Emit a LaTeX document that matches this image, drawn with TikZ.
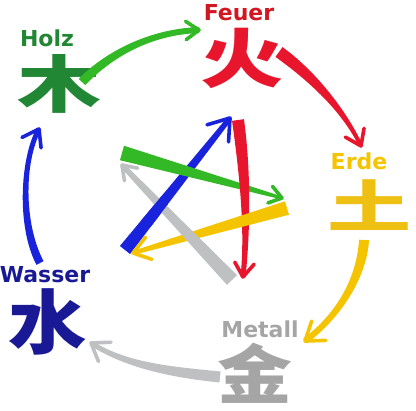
\documentclass[tikz,border=0pt]{standalone}
\usepackage{fontspec}
\usetikzlibrary{calc}
\newfontfamily\cjk{Noto Sans CJK SC}
\newfontfamily\labf{DejaVu Sans}
\definecolor{greenA}{RGB}{52,185,38}
\definecolor{greenD}{RGB}{34,135,52}
\definecolor{redA}{RGB}{232,22,45}
\definecolor{redD}{RGB}{210,22,34}
\definecolor{yellowA}{RGB}{245,196,0}
\definecolor{yellowT}{RGB}{238,192,20}
\definecolor{grayA}{RGB}{190,192,194}
\definecolor{grayT}{RGB}{165,165,165}
\definecolor{blueA}{RGB}{25,35,220}
\definecolor{blueD}{RGB}{25,25,150}
% tapered straight stroke: tail, head, half width tail, half width head, colour
\newcommand\taperline[5]{%
  \fill[#5] ($(#1)!#3!90:(#2)$) -- ($(#2)!#4!-90:(#1)$) -- ($(#2)!#4!90:(#1)$) -- ($(#1)!#3!-90:(#2)$) -- cycle;}
% tapered curved stroke: P0, P1, P2, P3, half width start, half width end, colour
\newcommand\tapercurve[7]{%
  \fill[#7] ($(#1)!#5!90:(#2)$) .. controls ($(#2)!#5!-90:(#1)$) and ($(#3)!#6!90:(#4)$) .. ($(#4)!#6!-90:(#3)$)
    -- ($(#4)!#6!90:(#3)$) .. controls ($(#3)!#6!-90:(#4)$) and ($(#2)!#5!90:(#1)$) .. ($(#1)!#5!-90:(#2)$) -- cycle;}
% open chevron head: tip, point behind, colour, arm length
\newcommand\chev[4]{%
  \draw[#3, chevline] ($(#1)!#4!35:(#2)$) -- (#1) -- ($(#1)!#4!-35:(#2)$);}
\tikzset{
  chevline/.style={line width=3.6pt, line cap=round, line join=round},
  lab/.style={inner sep=0pt, font=\labf\bfseries\fontsize{22}{22}\selectfont},
  zeichen/.style={inner sep=0pt, font=\cjk\bfseries\fontsize{#1}{#1}\selectfont},
  zeichen/.default=64
}
\begin{document}
\begin{tikzpicture}[x=1pt,y=-1pt]
\useasboundingbox (0,0) rectangle (416,411);
% element labels and characters
\node[lab, text=greenD] (holz) at (47,38) {Holz};
\node[zeichen=62, text=greenD, xscale=1.35] (mu) at (59,84) {木};
\node[lab, text=redD] (feuer) at (239,13) {Feuer};
\node[zeichen=64, text=redA, xscale=1.3] (huo) at (242,58) {火};
\node[lab, text=yellowA] (erde) at (359,161) {Erde};
\node[zeichen=56, text=yellowT, xscale=1.5] (tu) at (369,205) {土};
\node[lab, text=grayT] (metall) at (260,329) {Metall};
\node[zeichen=64, text=grayT, xscale=1.17] (jin) at (255,373) {金};
\node[lab, text=blueD] (wasser) at (45,275) {Wasser};
\node[zeichen=70, text=blueD, xscale=1.12] (shui) at (48,322) {水};
% outer cycle coordinates
\coordinate (g0) at (82,82);  \coordinate (g1) at (106,57);  \coordinate (g2) at (147,32);  \coordinate (g3) at (199,30);
\coordinate (r0) at (279,52); \coordinate (r1) at (311,75);  \coordinate (r2) at (344,110); \coordinate (r3) at (361,146);
\coordinate (y0) at (364,240);\coordinate (y1) at (362,276); \coordinate (y2) at (340,315); \coordinate (y3) at (305,341);
\coordinate (a0) at (220,377);\coordinate (a1) at (170,372); \coordinate (a2) at (125,365); \coordinate (a3) at (91,343);
\coordinate (b0) at (40,263); \coordinate (b1) at (20,225);  \coordinate (b2) at (22,160);  \coordinate (b3) at (39,129);
\tapercurve{g0}{g1}{g2}{g3}{4.5pt}{3pt}{greenA}   \chev{g3}{g2}{greenA}{16pt}
\tapercurve{r0}{r1}{r2}{r3}{6pt}{2pt}{redA}       \chev{r3}{r2}{redA}{18pt}
\tapercurve{y0}{y1}{y2}{y3}{5pt}{3pt}{yellowA}    \chev{y3}{y2}{yellowA}{21pt}
\tapercurve{a0}{a1}{a2}{a3}{5.5pt}{2.5pt}{grayA}  \chev{a3}{a2}{grayA}{20pt}
\tapercurve{b0}{b1}{b2}{b3}{4pt}{2.5pt}{blueA}    \chev{b3}{b2}{blueA}{19pt}
% inner star coordinates
\coordinate (bt) at (125,250); \coordinate (bh) at (230,118);
\coordinate (gt) at (122,153); \coordinate (gh) at (282,198);
\coordinate (rt) at (238,120); \coordinate (rc1) at (245,170); \coordinate (rc2) at (248,230); \coordinate (rh) at (243,277);
\coordinate (yt) at (287,208); \coordinate (yh) at (133,253);
\coordinate (at) at (232,280); \coordinate (ah) at (122,165);
\taperline{bt}{bh}{6.5pt}{2.5pt}{blueA}   \chev{bh}{bt}{blueA}{24pt}
\taperline{gt}{gh}{7.5pt}{1.5pt}{greenA}  \chev{gh}{gt}{greenA}{15pt}
\tapercurve{rt}{rc1}{rc2}{rh}{6pt}{2.5pt}{redA} \chev{rh}{rc2}{redA}{17pt}
\taperline{yt}{yh}{7pt}{2pt}{yellowA}     \chev{yh}{yt}{yellowA}{20pt}
\taperline{at}{ah}{7pt}{2.5pt}{grayA}     \chev{ah}{at}{grayA}{16pt}
\begin{scope}
  \clip (153,210) circle (16);
  \taperline{bt}{bh}{6.5pt}{2.5pt}{blueA}
\end{scope}
\end{tikzpicture}
\end{document}
